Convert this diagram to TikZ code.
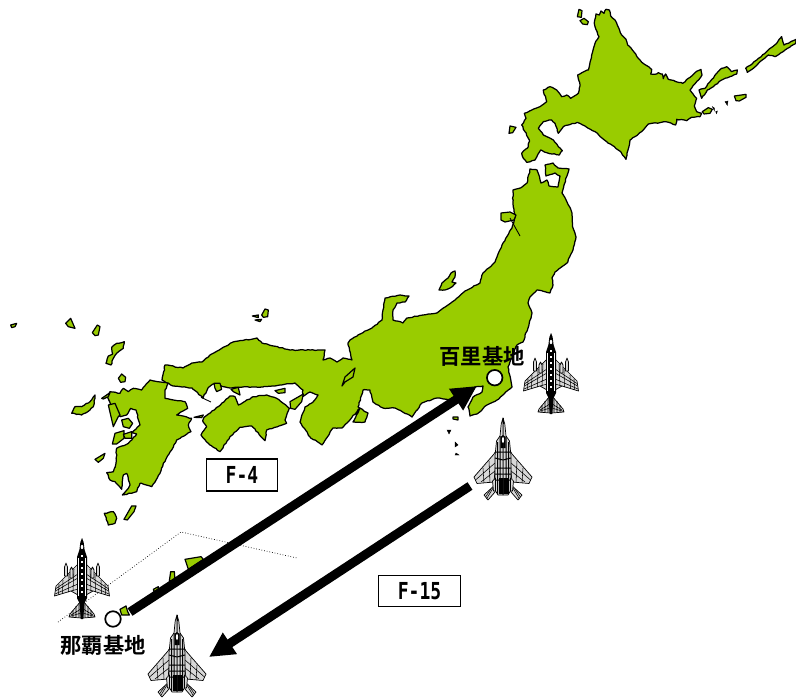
\documentclass[tikz,border=0pt]{standalone}
\usepackage{fontspec}
\usepackage{graphicx}
\newfontfamily\jpfont{Noto Sans CJK JP}[BoldFont={Noto Sans CJK JP Bold}]
\newfontfamily\boxfont{DejaVu Sans Mono}[BoldFont={DejaVu Sans Mono Bold}]
\usetikzlibrary{arrows.meta,decorations.pathmorphing,calc}
\definecolor{landgreen}{HTML}{99CC00}
\definecolor{wingfill}{HTML}{D8D8D8}
\newcommand{\fourhalfshape}{%
    \path[wingpart] (4,26)--(26,48)--(27.5,58)--(11,53)--(4,57)--cycle;
    \draw[fine] (8,31)--(9,53) (13,36)--(13.5,54) (19,42)--(19.5,55.5) (23,46)--(23.5,56.5) (4,36)--(26,50.5) (4,40)--(26.5,53) (4,46)--(27,56) (4,51)--(11,53);
    \path[wingpart] (14.5,38)--(14.5,29)--(16,25)--(17.5,29)--(17.5,38)--cycle;
    \path[wingpart] (9,40)--(9,32)--(10.5,29)--(12,32)--(12,40)--cycle;
    \path[wingpart] (1,63)--(12,76)--(13,79)--(1,80)--cycle;
    \draw[fine] (3,65)--(3,79.5) (6,68)--(6,79.5) (9,72)--(9,79.5) (1,71)--(11,77) (1,75)--(12.5,78.5);
    \fill[black] (0,0)--(1.6,4)--(2.6,12)--(5,19)--(5,60)--(2.5,65)--(1.2,81)--(0,81)--cycle;
}
\newcommand{\eaglehalfshape}{%
    \path[wingpart] (6,31)--(9,36)--(29,59)--(26,65.5)--(9,64)--cycle;
    \draw[fine] (14,43)--(13,64.5) (20,50)--(19,65) (8,45)--(27.5,62) (8,53)--(22,64);
    \path[wingpart] (7,66)--(19,77)--(15,82)--(8,74)--cycle;
    \draw[fine] (9,68.5)--(16.5,81) (12,71)--(17.5,79);
    \path[wingpart] (0,0)--(1.8,6)--(3,18)--(6.5,23)--(8,38)--(8,72)--(5,77)--(0,77)--cycle;
    \draw[black,line width=1pt] (3,18)--(3,76) (5.5,24)--(5.5,76) (0,34)--(8,34) (0,42)--(8,40) (0,50)--(8,50) (0,56)--(8,56) (0,62)--(8,62);
    \fill[black] (0,60)--(4.5,60)--(4.5,76)--(0,76)--cycle;
    \fill[black] (0,17)--(2.5,19)--(2.5,30)--(0,30)--cycle;
    \path[wingpart] (7.5,60)--(10.5,63)--(9.5,73)--(7.5,73)--cycle;
}
\tikzset{
  land/.style={fill=landgreen,draw=black,line width=1.25pt,line join=round,decorate,decoration={random steps,segment length=2.6pt,amplitude=.45pt}},
  isle/.style={fill=landgreen,draw=black,line width=1.2pt,line join=round},
  speck/.style={fill=black,draw=black,line width=.4pt},
  zoomA/.style={shift={(500,0)},x=.33333pt,y=-.33333pt},
  zoomC/.style={shift={(0,300)},x=.33333pt,y=-.33333pt},
  zoomD/.style={shift={(40,520)},x=.33333pt,y=-.33333pt},
  base/.style={circle,fill=white,draw=black,line width=1.7pt,minimum size=15.5pt,inner sep=0pt},
  basename/.style={font=\jpfont\bfseries\fontsize{21.3}{22}\selectfont,inner sep=0pt,text=black},
  typebox/.style={rectangle,fill=white,draw=black,line width=1.8pt,inner sep=0pt,font=\boxfont\bfseries\fontsize{18}{20}\selectfont},
  fly/.style={draw=black,line width=9pt,-{Triangle[length=25pt,width=24pt]}},
  fine/.style={draw=black,line width=.55pt},
  wingpart/.style={fill=wingfill,draw=black,line width=.7pt,line join=round},
  phantom/.pic={
    \fourhalfshape
    \begin{scope}[xscale=-1]\fourhalfshape\end{scope}
    \fill[white] (0,9) ellipse (1.3 and 2.2);
    \foreach \yy in {17,23,29,35,41,47,53} {\fill[white] (-1.2,\yy) rectangle (1.2,\yy+2.4);}
    \draw[white,line width=.3pt] (-3.6,20)--(-3.6,58) (3.6,20)--(3.6,58);
  },
  eagle/.pic={
    \eaglehalfshape
    \begin{scope}[xscale=-1]\eaglehalfshape\end{scope}
    \fill[white] (0,22) ellipse (1.1 and 3);
    \draw[black,line width=.5pt] (0,0)--(0,6);
  }
}
\begin{document}
\begin{tikzpicture}[x=1pt,y=-1pt]
\useasboundingbox (0,0) rectangle (796,698);
\pgfmathsetseed{7}
% Hokkaido and northern isles
\begin{scope}[zoomA]
\path[land] (283,68)--(288,42)--(298,45)--(303,33)--(312,40)--(318,28)--(328,30)--(332,48)--(345,60)--(352,75)--(365,105)--(378,118)--(383,135)--(397,150)--(415,175)--(432,192)--(455,208)--(452,222)--(470,222)--(475,218)--(487,222)--(490,236)--(497,222)--(505,238)--(548,250)--(565,235)--(585,218)--(603,208)--(606,225)--(590,245)--(570,270)--(590,295)--(583,318)--(590,335)--(605,340)--(600,350)--(575,352)--(560,362)--(530,358)--(527,375)--(497,365)--(480,368)--(445,372)--(425,395)--(390,420)--(378,478)--(362,455)--(320,425)--(285,395)--(255,378)--(232,367)--(205,375)--(190,380)--(175,400)--(165,370)--(155,360)--(130,365)--(115,385)--(130,405)--(160,420)--(175,440)--(187,452)--(178,465)--(140,458)--(122,450)--(105,480)--(80,487)--(70,475)--(65,460)--(85,440)--(88,420)--(75,395)--(65,375)--(78,355)--(73,340)--(95,330)--(120,320)--(140,305)--(130,270)--(150,260)--(170,270)--(185,290)--(200,285)--(212,295)--(235,280)--(240,258)--(233,225)--(265,210)--(275,165)--(285,130)--(297,110)--(285,80)--cycle;
\path[isle] (232,50)--(237,28)--(246,32)--(244,52)--cycle;
\path[isle] (240,62)--(252,55)--(265,65)--(262,74)--(248,72)--cycle;
\path[isle] (27,400)--(30,378)--(48,382)--(38,398)--cycle;
\path[land] (597,270)--(615,265)--(630,245)--(650,220)--(665,205)--(680,200)--(695,215)--(712,210)--(710,222)--(690,230)--(665,240)--(640,260)--(622,270)--(605,295)--cycle;
\path[land] (737,205)--(770,180)--(800,155)--(830,130)--(845,110)--(852,135)--(888,118)--(888,130)--(855,150)--(825,170)--(805,165)--(780,185)--(760,205)--(742,217)--cycle;
\path[isle] (703,288)--(738,283)--(738,292)--(718,303)--(708,302)--cycle;
\path[isle] (607,335)--(625,323)--(637,328)--(630,340)--(612,342)--cycle;
\path[speck] (637,320)--(643,324)--(643,332)--cycle;
\path[speck] (647,335)--(652,333)--(650,341)--cycle;
\path[speck] (675,305)--(684,303)--(682,316)--cycle;
\end{scope}
% Honshu
\path[land] (360,408)--(347,423)--(342,428)--(333,428)--(322,445)--(310,437)--(300,422)--(305,407)--(313,402)--(318,395)--(310,392)--(302,397)--(303,390)--(295,383)--(280,385)--(263,387)--(243,387)--(230,388)--(213,384)--(208,388)--(203,398)--(192,388)--(173,386)--(162,380)--(165,365)--(183,368)--(192,363)--(202,362)--(210,355)--(233,342)--(257,338)--(262,343)--(290,350)--(310,350)--(325,350)--(323,360)--(330,358)--(337,362)--(343,358)--(352,360)--(348,343)--(350,340)--(358,335)--(373,327)--(382,320)--(383,310)--(385,298)--(400,295)--(409,296)--(405,302)--(397,303)--(393,310)--(393,320)--(403,323)--(407,318)--(423,315)--(437,313)--(448,305)--(455,300)--(465,291)--(480,283)--(483,273)--(495,262)--(503,243)--(512,228)--(515,217)--(513,203)--(513,190)--(522,187)--(527,183)--(530,169)--(537,170)--(541,183)--(547,180)--(549,186)--(558,187)--(560,176)--(555,173)--(546,176)--(545,165)--(553,163)--(558,168)--(569,169)--(564,185)--(562,193)--(567,202)--(572,213)--(573,228)--(576,237)--(573,250)--(567,263)--(555,272)--(552,278)--(553,285)--(550,293)--(546,292)--(537,290)--(530,297)--(528,303)--(532,313)--(528,328)--(523,342)--(517,345)--(508,367)--(512,387)--(497,400)--(487,405)--(477,414)--(470,416)--(468,407)--(473,397)--(482,392)--(483,386)--(475,387)--(463,397)--(453,400)--(437,398)--(422,403)--(412,417)--(395,408)--(383,408)--(373,402)--(370,390)--(363,390)--(358,407)--(368,413)--(365,422)--(353,422)--cycle;
\path[isle] (342,386)--(345,377)--(355,368)--(353,377)--(345,382)--cycle;
\path[land] (439,290)--(442,283)--(448,278)--(451,273)--(455,271)--(455,277)--(452,282)--(456,283)--(450,288)--(445,290)--cycle;
\path[isle] (501,213)--(510,212)--(516,215)--(514,220)--(505,222)--(501,220)--cycle;
\draw[black,line width=.9pt] (510,218)--(520,236);
\path[isle] (453,417)--(458,417)--(458,420)--(453,419)--cycle;
\path[speck] (447,430)--(451,430)--(449,434)--cycle;
\path[speck] (455,442)--(458,445)--(455,447)--cycle;
\path[speck] (456,453)--(459,455)--(455,455)--cycle;
% West Japan
\begin{scope}[zoomC]
\path[land] (450,240)--(505,250)--(495,270)--(495,295)--(520,300)--(555,305)--(563,325)--(530,345)--(575,355)--(565,375)--(573,395)--(530,420)--(515,450)--(490,490)--(480,520)--(455,560)--(420,550)--(410,575)--(367,585)--(385,565)--(390,555)--(380,520)--(370,525)--(365,568)--(345,545)--(330,540)--(320,518)--(340,515)--(348,490)--(350,445)--(385,430)--(410,402)--(395,398)--(420,375)--(408,330)--(392,325)--(380,345)--(360,350)--(355,335)--(335,320)--(322,290)--(330,275)--(360,280)--(370,265)--(385,275)--(400,265)--(425,270)--cycle;
\path[isle] (325,315)--(345,310)--(360,345)--(355,350)--(340,380)--(333,350)--cycle;
\path[isle] (365,360)--(385,355)--(398,370)--(388,385)--(370,380)--cycle;
\path[isle] (337,432)--(345,400)--(372,392)--(372,415)--(350,432)--cycle;
\path[isle] (370,403)--(395,395)--(395,415)--(375,415)--cycle;
\path[land] (215,340)--(225,320)--(245,320)--(270,305)--(285,285)--(285,295)--(280,320)--(270,330)--(245,345)--cycle;
\path[isle] (305,295)--(330,278)--(325,290)--(310,297)--cycle;
\path[isle] (355,235)--(365,222)--(377,232)--(375,245)--(362,247)--cycle;
\path[land] (318,190)--(325,168)--(338,162)--(335,142)--(350,130)--(373,125)--(370,145)--(350,160)--(340,175)--(333,195)--cycle;
\path[isle] (277,98)--(292,75)--(300,80)--(295,105)--(285,107)--cycle;
\path[isle] (197,70)--(212,55)--(225,85)--(205,80)--cycle;
\path[isle] (32,75)--(50,70)--(45,80)--(35,83)--cycle;
\path[isle] (785,45)--(795,27)--(805,30)--(803,50)--(790,52)--cycle;
\path[isle] (757,48)--(775,45)--(775,53)--cycle;
\path[isle] (765,60)--(785,58)--(780,65)--cycle;
\path[isle] (285,478)--(315,460)--(310,475)--(295,487)--cycle;
\path[isle] (372,658)--(395,618)--(408,618)--(402,635)--(382,660)--cycle;
\path[land] (313,640)--(340,635)--(350,655)--(345,670)--(325,675)--cycle;
\path[land] (612,352)--(655,320)--(690,288)--(705,290)--(715,315)--(760,290)--(800,285)--(830,295)--(868,325)--(855,360)--(860,370)--(800,390)--(795,422)--(755,378)--(720,382)--(690,410)--(660,455)--(625,430)--(603,405)--(620,380)--(608,362)--cycle;
\path[isle] (870,305)--(910,282)--(905,305)--(885,328)--(872,325)--cycle;
\path[isle] (582,352)--(610,345)--(605,353)--cycle;
\path[isle] (642,250)--(660,250)--(665,268)--(650,275)--(645,265)--cycle;
\path[isle] (693,268)--(715,262)--(720,285)--(700,275)--cycle;
\path[isle] (825,272)--(855,265)--(855,278)--(835,280)--cycle;
\draw[black,line width=.9pt] (603,292)--(633,306);
\end{scope}
% Dotted limit line
\draw[black,line width=.7pt,dotted] (58,622)--(181,532)--(297,558);
% Nansei isles
\begin{scope}[zoomD]
\path[isle] (240,268)--(258,258)--(263,275)--(268,285)--(245,285)--cycle;
\path[isle] (435,118)--(483,110)--(490,118)--(445,148)--cycle;
\path[isle] (392,155)--(403,155)--(405,180)--(388,183)--cycle;
\path[isle] (340,208)--(355,200)--(355,208)--(342,215)--cycle;
\end{scope}
% Bases, boxes, arrows
\node[base] (hyakuri) at (494.7,377.7) {};
\node[base] (naha) at (113,619) {};
\node[basename] (hyakurilabel) at (482,356) {百里基地};
\node[basename] (nahalabel) at (103,645) {那覇基地};
\node[typebox,minimum width=71pt,minimum height=32pt] (boxA) at (242,475) {\scalebox{1}[1.3]{F-4}};
\node[typebox,minimum width=82pt,minimum height=31pt] (boxB) at (419.5,591) {\scalebox{1}[1.3]{F-15}};
\coordinate (tailA) at (130,612);
\coordinate (headA) at (477,386);
\coordinate (tailB) at (470,486);
\coordinate (headB) at (209,657);
\draw[fly] (tailA)--(headA);
\draw[fly] (tailB)--(headB);
% Aircraft
\path (551,333) pic {phantom};
\path (82,538) pic {phantom};
\path (503,418) pic {eagle};
\path (177,615) pic {eagle};
\end{tikzpicture}
\end{document}
